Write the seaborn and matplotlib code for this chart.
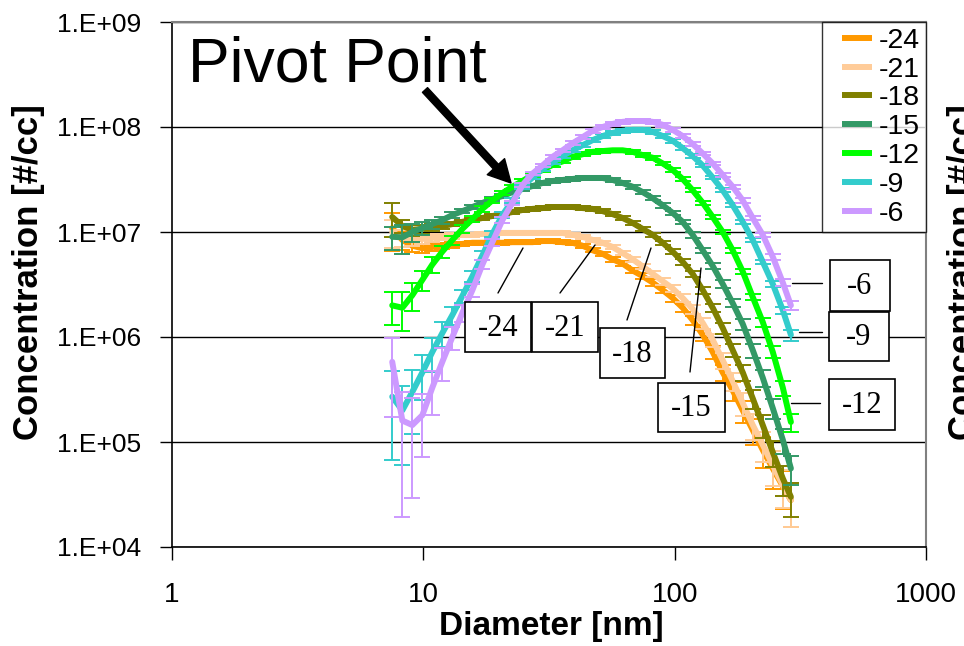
import numpy as np
import pandas as pd
import matplotlib
matplotlib.use("Agg")
import matplotlib.pyplot as plt
import seaborn as sns
from matplotlib.patches import Rectangle
from matplotlib.lines import Line2D
from matplotlib.ticker import NullLocator
from matplotlib.legend_handler import HandlerBase

# ---------------- data ----------------
diameter = [7.52, 8.25, 9.04, 9.91, 10.86, 11.90, 13.05, 14.30, 15.68, 17.18, 18.83,
            20.64, 22.63, 24.80, 27.19, 29.80, 32.66, 35.80, 39.24, 43.01, 47.14,
            51.67, 56.63, 62.07, 68.04, 74.57, 81.74, 89.59, 98.18, 107.6, 117.9,
            129.3, 141.7, 155.3, 170.2, 186.6, 204.5, 224.1, 245.7, 269.3, 290.0]

labels = ["-24", "-21", "-18", "-15", "-12", "-9", "-6"]

conc_m24 = [1.09e7, 8.4e6, 7.4e6, 7.0e6, 7.2e6, 7.4e6, 7.5e6, 7.7e6, 7.9e6, 7.9e6, 7.9e6,
            7.9e6, 8.0e6, 8.0e6, 8.0e6, 8.2e6, 8.2e6, 8.0e6, 7.9e6, 7.4e6, 6.7e6,
            6.2e6, 5.5e6, 5.0e6, 4.3e6, 3.8e6, 3.3e6, 2.8e6, 2.35e6, 1.9e6, 1.45e6,
            1.05e6, 7.2e5, 4.6e5, 3.1e5, 2.0e5, 1.3e5, 8.4e4, 5.6e4, 3.8e4, 2.8e4]
conc_m21 = [1.0e7, 8.8e6, 8.4e6, 8.6e6, 8.8e6, 9.0e6, 9.2e6, 9.4e6, 9.4e6, 9.6e6, 9.6e6,
            9.8e6, 9.8e6, 9.8e6, 9.8e6, 9.8e6, 9.8e6, 9.8e6, 9.4e6, 9.0e6, 8.4e6,
            7.9e6, 7.2e6, 6.3e6, 5.5e6, 4.7e6, 4.0e6, 3.4e6, 2.9e6, 2.35e6, 1.85e6,
            1.36e6, 9.4e5, 6.0e5, 3.8e5, 2.35e5, 1.45e5, 9.4e4, 6.0e4, 3.9e4, 2.8e4]
conc_m18 = [1.39e7, 1.14e7, 1.05e7, 1.07e7, 1.12e7, 1.14e7, 1.19e7, 1.25e7, 1.3e7, 1.36e7, 1.42e7,
            1.48e7, 1.55e7, 1.62e7, 1.66e7, 1.69e7, 1.73e7, 1.73e7, 1.73e7, 1.69e7, 1.66e7,
            1.58e7, 1.48e7, 1.36e7, 1.22e7, 1.07e7, 9.4e6, 7.9e6, 6.5e6, 5.2e6, 4.0e6,
            2.8e6, 1.9e6, 1.22e6, 7.5e5, 4.6e5, 2.6e5, 1.45e5, 8.0e4, 4.5e4, 3.0e4]
conc_m15 = [9.0e6, 8.9e6, 1.0e7, 1.09e7, 1.19e7, 1.3e7, 1.45e7, 1.58e7, 1.73e7, 1.89e7, 2.06e7,
            2.2e7, 2.4e7, 2.57e7, 2.74e7, 2.93e7, 3.06e7, 3.13e7, 3.2e7, 3.27e7, 3.27e7,
            3.27e7, 3.13e7, 2.93e7, 2.7e7, 2.4e7, 2.1e7, 1.8e7, 1.52e7, 1.25e7, 9.4e6,
            6.7e6, 4.75e6, 3.2e6, 2.1e6, 1.33e6, 7.5e5, 4.1e5, 2.1e5, 1.05e5, 5.6e4]
conc_m12 = [2.0e6, 1.9e6, 2.5e6, 3.5e6, 4.9e6, 6.5e6, 8.4e6, 1.07e7, 1.33e7, 1.66e7, 2.0e7,
            2.35e7, 2.7e7, 3.06e7, 3.5e7, 3.9e7, 4.35e7, 4.7e7, 5.2e7, 5.5e7, 5.8e7,
            5.9e7, 6.0e7, 6.0e7, 5.8e7, 5.4e7, 5.1e7, 4.5e7, 3.9e7, 3.2e7, 2.5e7,
            1.9e7, 1.39e7, 1.0e7, 6.7e6, 4.2e6, 2.4e6, 1.39e6, 7.2e5, 3.3e5, 1.55e5]
conc_m9 = [2.7e5, 2.0e5, 3.0e5, 4.6e5, 7.2e5, 1.09e6, 1.62e6, 2.46e6, 3.8e6, 6.0e6, 9.6e6,
           1.45e7, 2.0e7, 2.7e7, 3.3e7, 4.0e7, 4.6e7, 5.3e7, 6.0e7, 6.7e7, 7.5e7,
           8.2e7, 8.8e7, 9.2e7, 9.4e7, 9.4e7, 9.0e7, 8.2e7, 7.4e7, 6.3e7, 5.3e7,
           4.3e7, 3.3e7, 2.5e7, 1.8e7, 1.25e7, 8.4e6, 5.2e6, 3.2e6, 1.8e6, 1.05e6]
conc_m6 = [5.8e5, 1.6e5, 1.45e5, 1.8e5, 3.3e5, 5.8e5, 1.0e6, 1.7e6, 2.8e6, 4.9e6, 8.0e6,
           1.3e7, 1.9e7, 2.8e7, 3.6e7, 4.3e7, 5.2e7, 6.0e7, 7.0e7, 8.0e7, 9.2e7,
           1.0e8, 1.07e8, 1.12e8, 1.14e8, 1.14e8, 1.12e8, 1.05e8, 9.4e7, 8.2e7, 6.9e7,
           5.6e7, 4.5e7, 3.5e7, 2.7e7, 2.0e7, 1.36e7, 9.4e6, 5.8e6, 3.3e6, 2.0e6]

# relative (fractional) error of each point
err_m24 = [0.40, 0.20, 0.12, 0.10, 0.08, 0.07, 0.06, 0.05, 0.05, 0.04, 0.04,
           0.04, 0.04, 0.04, 0.04, 0.04, 0.04, 0.04, 0.04, 0.04, 0.04,
           0.05, 0.05, 0.05, 0.06, 0.06, 0.07, 0.07, 0.08, 0.09, 0.10,
           0.12, 0.14, 0.17, 0.20, 0.24, 0.28, 0.32, 0.36, 0.40, 0.45]
err_m21 = [0.30, 0.18, 0.12, 0.10, 0.08, 0.07, 0.06, 0.05, 0.05, 0.04, 0.04,
           0.04, 0.04, 0.04, 0.04, 0.04, 0.04, 0.04, 0.04, 0.04, 0.04,
           0.05, 0.05, 0.05, 0.06, 0.06, 0.07, 0.07, 0.08, 0.09, 0.10,
           0.12, 0.14, 0.17, 0.20, 0.24, 0.28, 0.32, 0.36, 0.40, 0.45]
err_m18 = [0.35, 0.15, 0.12, 0.10, 0.08, 0.06, 0.05, 0.04, 0.04, 0.04, 0.04,
           0.04, 0.04, 0.04, 0.04, 0.04, 0.04, 0.04, 0.04, 0.04, 0.04,
           0.04, 0.04, 0.04, 0.04, 0.05, 0.05, 0.05, 0.06, 0.06, 0.07,
           0.08, 0.09, 0.12, 0.14, 0.17, 0.20, 0.24, 0.28, 0.32, 0.36]
err_m15 = [0.25, 0.30, 0.20, 0.15, 0.10, 0.08, 0.06, 0.05, 0.04, 0.04, 0.04,
           0.04, 0.04, 0.04, 0.04, 0.04, 0.04, 0.04, 0.04, 0.04, 0.04,
           0.04, 0.04, 0.04, 0.04, 0.04, 0.04, 0.05, 0.05, 0.05, 0.06,
           0.06, 0.07, 0.08, 0.09, 0.12, 0.15, 0.18, 0.22, 0.26, 0.30]
err_m12 = [0.35, 0.40, 0.30, 0.22, 0.17, 0.13, 0.10, 0.08, 0.07, 0.06, 0.05,
           0.04, 0.04, 0.04, 0.04, 0.04, 0.04, 0.04, 0.04, 0.04, 0.04,
           0.04, 0.04, 0.04, 0.04, 0.04, 0.04, 0.04, 0.04, 0.04, 0.04,
           0.04, 0.05, 0.05, 0.06, 0.06, 0.07, 0.10, 0.13, 0.16, 0.20]
err_m9 = [0.75, 0.70, 0.60, 0.45, 0.35, 0.27, 0.20, 0.15, 0.12, 0.09, 0.07,
          0.06, 0.05, 0.04, 0.04, 0.04, 0.04, 0.04, 0.04, 0.04, 0.04,
          0.04, 0.04, 0.04, 0.04, 0.04, 0.04, 0.04, 0.04, 0.04, 0.04,
          0.04, 0.04, 0.04, 0.04, 0.05, 0.05, 0.05, 0.06, 0.08, 0.12]
err_m6 = [0.70, 0.88, 0.80, 0.60, 0.45, 0.35, 0.25, 0.18, 0.14, 0.10, 0.08,
          0.06, 0.05, 0.04, 0.04, 0.04, 0.04, 0.04, 0.04, 0.04, 0.04,
          0.04, 0.04, 0.04, 0.04, 0.04, 0.04, 0.04, 0.04, 0.04, 0.04,
          0.04, 0.04, 0.04, 0.04, 0.05, 0.05, 0.05, 0.06, 0.07, 0.10]

colors = ["#FF9900", "#FFCC99", "#808000", "#339966", "#00FF00", "#33CCCC", "#CC99FF"]

x_ticks = [1, 10, 100, 1000]
x_ticklabels = ["1", "10", "100", "1000"]
y_ticks = [1e4, 1e5, 1e6, 1e7, 1e8, 1e9]
y_ticklabels = ["1.E+04", "1.E+05", "1.E+06", "1.E+07", "1.E+08", "1.E+09"]

series_conc = [conc_m24, conc_m21, conc_m18, conc_m15, conc_m12, conc_m9, conc_m6]
series_err = [err_m24, err_m21, err_m18, err_m15, err_m12, err_m9, err_m6]

df = pd.concat([pd.DataFrame({"Diameter": diameter, "Conc": c, "RelErr": e, "Series": lab})
                for lab, c, e in zip(labels, series_conc, series_err)], ignore_index=True)

# ---------------- style ----------------
sns.set_theme(style="white")
plt.rcParams["font.family"] = ["Liberation Sans", "DejaVu Sans"]
plt.rcParams["text.color"] = "black"
plt.rcParams["axes.labelcolor"] = "black"
plt.rcParams["xtick.color"] = "black"
plt.rcParams["ytick.color"] = "black"

W, H = 964, 646
def fx(px):
    return px / W
def fy(py):
    return 1 - py / H


class InsetLineHandler(HandlerBase):
    """Legend line that leaves some blank space on its left."""
    def create_artists(self, legend, orig_handle, xdescent, ydescent, width, height,
                       fontsize, trans):
        y = -ydescent + height / 2
        x0 = -xdescent + 0.33 * width
        x1 = -xdescent + width
        ln = Line2D([x0, x1], [y, y], color=orig_handle.get_color(),
                    lw=orig_handle.get_linewidth(), solid_capstyle="butt",
                    transform=trans)
        return [ln]


fig = plt.figure(figsize=(W / 100, H / 100), dpi=100)
fig.patch.set_facecolor("white")
ax = fig.add_axes([fx(172), fy(547), (926 - 172) / W, (547 - 22) / H])
ax.set_facecolor("white")

for i, (lab, col) in enumerate(zip(labels, colors)):
    sub = df[df["Series"] == lab]
    z = 3 + i * 0.1
    ax.errorbar(sub["Diameter"], sub["Conc"], yerr=sub["Conc"] * sub["RelErr"],
                fmt="none", ecolor=col, elinewidth=1.4, capsize=6, capthick=1.4,
                zorder=z)
    sns.lineplot(data=sub, x="Diameter", y="Conc", color=col, lw=4.3, ax=ax,
                 estimator=None, sort=False, legend=False, zorder=z + 0.05)

ax.set_xscale("log")
ax.set_yscale("log")
ax.set_xlim(1, 1000)
ax.set_ylim(1e4, 1e9)
ax.set_xticks(x_ticks)
ax.set_xticklabels(x_ticklabels)
ax.set_yticks(y_ticks)
ax.set_yticklabels(y_ticklabels)
ax.xaxis.set_minor_locator(NullLocator())
ax.yaxis.set_minor_locator(NullLocator())
ax.set_xlabel("")
ax.set_ylabel("")
ax.yaxis.grid(True, color="black", lw=1.0)
ax.xaxis.grid(False)
ax.set_axisbelow(True)
ax.tick_params(axis="y", direction="out", length=9, width=1, pad=13,
               labelsize=19, colors="black", left=True)
ax.tick_params(axis="x", direction="out", length=9, width=1, pad=16,
               labelsize=20, colors="black", bottom=True)
for s in ["left", "bottom"]:
    ax.spines[s].set_color("black")
    ax.spines[s].set_linewidth(1.2)
for s in ["top", "right"]:
    ax.spines[s].set_color("#808080")
    ax.spines[s].set_linewidth(1.5)

handles = [Line2D([0], [0], color=c, lw=4.3) for c in colors]
leg = ax.legend(handles, labels, loc="upper right", bbox_to_anchor=(1, 1),
                borderaxespad=0, frameon=True, fancybox=False, edgecolor="black",
                fontsize=20.5, handlelength=1.55, handletextpad=0.25, labelspacing=0.1,
                borderpad=0.2, handler_map={Line2D: InsetLineHandler()})
leg.get_frame().set_linewidth(1.0)
leg.set_zorder(10)

# axis titles
fig.text(fx(551), fy(627), "Diameter [nm]", ha="center", va="center",
         fontsize=24, fontweight="bold")
fig.text(fx(29), fy(272), "Concentration [#/cc]", ha="center", va="center",
         rotation=90, fontsize=25, fontweight="bold")
fig.text(fx(963), fy(272), "Concentration [#/cc]", ha="center", va="center",
         rotation=90, fontsize=25, fontweight="bold")

# Pivot point annotation
fig.text(fx(188), fy(82), "Pivot Point", ha="left", va="baseline", fontsize=45,
         color="black")
ax.annotate("", xy=(fx(511), fy(183)), xytext=(fx(425), fy(90)),
            xycoords="figure fraction", textcoords="figure fraction",
            arrowprops=dict(facecolor="black", edgecolor="black", width=5,
                            headwidth=17, headlength=16, shrink=0))

# callout boxes with leaders
callouts = [
    ("-24", (465, 302, 531, 352), (498, 293, 523, 248)),
    ("-21", (532, 302, 598, 352), (560, 293, 595, 245)),
    ("-18", (600, 328, 665, 378), (627, 320, 651, 248)),
    ("-15", (658, 383, 725, 432), (690, 372, 701, 268)),
    ("-6", (830, 260, 890, 311), (792, 283, 822, 283)),
    ("-9", (829, 312, 889, 361), (799, 332, 822, 332)),
    ("-12", (829, 379, 895, 430), (791, 403, 820, 403)),
]
for txt, (x0, y0, x1, y1), (lx0, ly0, lx1, ly1) in callouts:
    fig.add_artist(Line2D([fx(lx0), fx(lx1)], [fy(ly0), fy(ly1)],
                          transform=fig.transFigure, color="black", lw=1.0, zorder=5))
    fig.add_artist(Rectangle((fx(x0), fy(y1)), (x1 - x0) / W, (y1 - y0) / H,
                             transform=fig.transFigure, facecolor="white",
                             edgecolor="black", lw=1.2, zorder=6))
    fig.text(fx((x0 + x1) / 2), fy((y0 + y1) / 2 + 1), txt, ha="center", va="center",
             family="Liberation Serif", fontsize=22, color="black", zorder=7)

fig.savefig("out.png", dpi=100, facecolor="white")
